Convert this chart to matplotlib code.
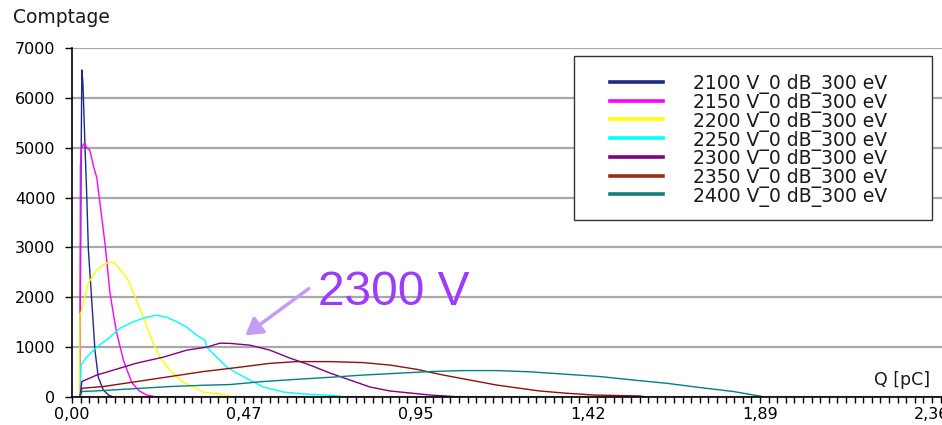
import matplotlib
matplotlib.use("Agg")
import matplotlib.pyplot as plt
from matplotlib.lines import Line2D
from matplotlib.patches import Rectangle, FancyArrowPatch
from matplotlib.ticker import MultipleLocator, FixedLocator

# valeurs (Q en pC, comptage)
q_2100 = [0.021, 0.022, 0.025, 0.027, 0.030, 0.036, 0.040, 0.045, 0.054, 0.063, 0.072, 0.086, 0.100, 0.113]
c_2100 = [0, 700, 4700, 6560, 6300, 4950, 4150, 2950, 1950, 940, 400, 140, 40, 0]

q_2150 = [0.022, 0.023, 0.025, 0.030, 0.035, 0.040, 0.049, 0.060, 0.068, 0.080, 0.091, 0.104,
          0.115, 0.123, 0.141, 0.164, 0.185, 0.205, 0.232]
c_2150 = [0, 4600, 4950, 5050, 5100, 5000, 4950, 4600, 4400, 3700, 3050, 2100,
          1600, 1280, 740, 290, 120, 40, 0]

q_2200 = [0.021, 0.022, 0.025, 0.031, 0.045, 0.068, 0.095, 0.113, 0.127, 0.154, 0.173, 0.196,
          0.219, 0.241, 0.269, 0.305, 0.342, 0.360, 0.425, 0.440]
c_2200 = [0, 1680, 1700, 1890, 2290, 2550, 2690, 2710, 2610, 2350, 2010, 1600,
          1140, 800, 540, 300, 170, 100, 40, 0]

q_2250 = [0.022, 0.025, 0.040, 0.068, 0.104, 0.132, 0.168, 0.205, 0.232, 0.260, 0.287, 0.315,
          0.342, 0.365, 0.370, 0.397, 0.425, 0.452, 0.488, 0.525, 0.580, 0.635, 0.717, 0.750]
c_2250 = [0, 640, 800, 1000, 1200, 1380, 1510, 1600, 1640, 1600, 1510, 1400,
          1240, 1140, 1000, 800, 600, 480, 340, 200, 100, 60, 30, 0]

q_2300 = [0.022, 0.027, 0.068, 0.132, 0.178, 0.251, 0.315, 0.370, 0.406, 0.434, 0.488, 0.543,
          0.598, 0.653, 0.708, 0.763, 0.818, 0.873, 0.928, 0.982, 1.056, 1.070]
c_2300 = [0, 310, 440, 580, 680, 800, 940, 1000, 1080, 1075, 1040, 940,
          780, 640, 480, 340, 200, 120, 80, 40, 5, 0]

q_2350 = [0.022, 0.027, 0.086, 0.178, 0.269, 0.360, 0.452, 0.543, 0.617, 0.708, 0.799, 0.873,
          0.946, 1.019, 1.092, 1.165, 1.229, 1.284, 1.358, 1.431, 1.559, 1.575]
c_2350 = [0, 175, 210, 310, 410, 510, 590, 675, 710, 710, 690, 640,
          555, 440, 340, 240, 175, 120, 75, 40, 20, 0]

q_2400 = [0.022, 0.027, 0.086, 0.178, 0.269, 0.360, 0.434, 0.525, 0.617, 0.708, 0.799, 0.891,
          0.982, 1.074, 1.165, 1.257, 1.358, 1.449, 1.540, 1.632, 1.723, 1.815, 1.870, 1.888, 1.895]
c_2400 = [0, 110, 130, 170, 210, 235, 250, 310, 355, 395, 440, 475,
          510, 530, 530, 505, 455, 410, 340, 275, 190, 110, 40, 20, 0]

series_q = [q_2100, q_2150, q_2200, q_2250, q_2300, q_2350, q_2400]
series_c = [c_2100, c_2150, c_2200, c_2250, c_2300, c_2350, c_2400]
labels = ["2100 V_0 dB_300 eV", "2150 V_0 dB_300 eV", "2200 V_0 dB_300 eV",
          "2250 V_0 dB_300 eV", "2300 V_0 dB_300 eV", "2350 V_0 dB_300 eV",
          "2400 V_0 dB_300 eV"]
colors = ["#1E2A8A", "#FF00FF", "#FFFF00", "#00FFFF", "#800080", "#8B1010", "#008080"]
legend_colors = ["#1E2A8A", "#FF00FF", "#FFFF00", "#00FFFF", "#800080", "#9A3010", "#108078"]

x_ticks = [0.0, 0.472, 0.944, 1.416, 1.888, 2.36]
x_ticklabels = ["0,00", "0,47", "0,95", "1,42", "1,89", "2,36"]
y_ticks = [0, 1000, 2000, 3000, 4000, 5000, 6000, 7000]

W, H = 942, 425
fig = plt.figure(figsize=(W / 100, H / 100), dpi=100)
ax = fig.add_axes([72 / W, 28 / H, 870 / W, 349 / H])

for q, c, col in zip(series_q, series_c, colors):
    ax.plot(q, c, color=col, lw=1.0, zorder=3)

ax.set_xlim(0, 870 / 364.4)
ax.set_ylim(0, 7000)

ax.xaxis.set_major_locator(FixedLocator(x_ticks))
ax.set_xticklabels(x_ticklabels)
ax.xaxis.set_minor_locator(MultipleLocator(0.0236))
ax.set_yticks(y_ticks)

ax.grid(axis="y", color="#A8A8A8", lw=1.6, zorder=1)
ax.set_axisbelow(True)
for s in ["top", "right"]:
    ax.spines[s].set_visible(False)
for s in ["left", "bottom"]:
    ax.spines[s].set_color("black")
    ax.spines[s].set_linewidth(1.2)
    ax.spines[s].set_zorder(4)

ax.tick_params(axis="y", direction="out", length=5, width=1, pad=7,
               labelsize=11.5, colors="black")
ax.tick_params(axis="x", which="major", direction="out", length=4, width=1, pad=3,
               labelsize=11.5, colors="black")
ax.tick_params(axis="x", which="minor", direction="out", length=4, width=1)

fig.text(13 / W, (425 - 23) / H, "Comptage", fontsize=13.5, color="#1a1a1a",
         ha="left", va="baseline")
fig.text(930 / W, (425 - 385) / H, "Q [pC]", fontsize=12.5, color="#1a1a1a",
         ha="right", va="baseline")

# légende
fig.patches.append(Rectangle((574 / W, (425 - 220) / H), 358 / W, 164 / H,
                             transform=fig.transFigure, facecolor="white",
                             edgecolor="#333333", lw=1.0, zorder=5))
for i, (lab, col) in enumerate(zip(labels, legend_colors)):
    yy = (425 - (82 + i * 18.7)) / H
    fig.lines.append(Line2D([610 / W, 663 / W], [yy, yy], transform=fig.transFigure,
                            color=col, lw=2.6, zorder=6))
    fig.text(693 / W, yy, lab, fontsize=13.5, color="#1a1a1a", ha="left",
             va="center_baseline", zorder=6)

# annotation
fig.text(318 / W, (425 - 305) / H, "2300 V", fontsize=34.5, color="#9B3CFF",
         family="Liberation Sans", ha="left", va="baseline")
fig.patches.append(FancyArrowPatch((311 / W, (425 - 287) / H), (243 / W, (425 - 337) / H),
                                   transform=fig.transFigure, arrowstyle="-|>,head_length=10,head_width=6",
                                   color="#C49CF5", lw=2.5, zorder=7))

fig.savefig("out.png", dpi=100)
